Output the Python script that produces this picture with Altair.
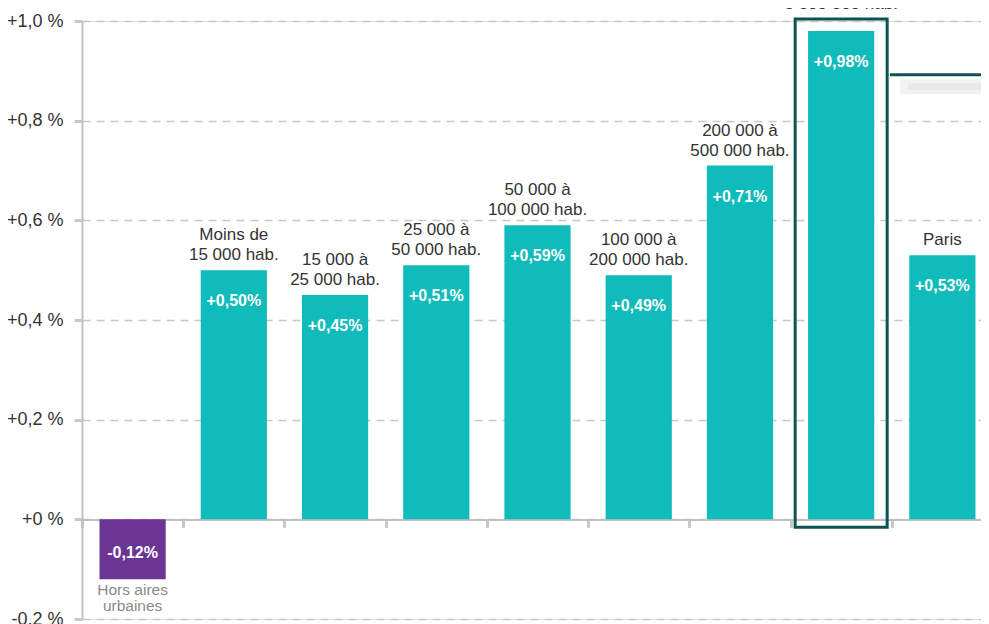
import altair as alt
import pandas as pd

categories = [
    "Hors aires\nurbaines",
    "Moins de\n15 000 hab.",
    "15 000 à\n25 000 hab.",
    "25 000 à\n50 000 hab.",
    "50 000 à\n100 000 hab.",
    "100 000 à\n200 000 hab.",
    "200 000 à\n500 000 hab.",
    "500 000 à\n3 000 000 hab.",
    "Paris",
]
values = [-0.12, 0.50, 0.45, 0.51, 0.59, 0.49, 0.71, 0.98, 0.53]
value_labels = ["-0,12%", "+0,50%", "+0,45%", "+0,51%", "+0,59%", "+0,49%", "+0,71%", "+0,98%", "+0,53%"]
highlighted = "500 000 à\n3 000 000 hab."
box_top = 1.004
box_bottom = -0.016
connector_y = 0.892
shadow_y = 0.868
y_ticks = [-0.2, 0, 0.2, 0.4, 0.6, 0.8, 1.0]

TEAL = "#0fbbbb"
PURPLE = "#6b3594"
DARK = "#0c5451"
FONT = "Liberation Sans"

df = pd.DataFrame({"cat": categories, "value": values, "lab": value_labels})
df["anchor"] = [box_top if c == highlighted else v for c, v in zip(categories, values)]
df["line1"] = [c.split("\n")[0] if "\n" in c else "" for c in categories]
df["line2"] = [c.split("\n")[-1] for c in categories]

W, H = 899, 598
RANGE_W = 911

x_scale = alt.Scale(domain=categories, range=[0, RANGE_W], paddingInner=0.346, paddingOuter=0.173)
x_enc = alt.X(
    "cat:N", sort=categories, scale=x_scale, title=None,
    axis=alt.Axis(
        labels=False, grid=False, orient="bottom", offset=-99.6,
        domainColor="#c0c0c0", domainWidth=2,
        tickColor="#c8c8c8", tickWidth=3, tickSize=8,
        bandPosition=0, tickOffset=-17.5,
    ),
)
xc = alt.X("cat:N", sort=categories)
y_scale = alt.Scale(domain=[-0.2, 1.0], nice=False, zero=False)
y_enc = alt.Y(
    "value:Q", scale=y_scale, title=None,
    axis=alt.Axis(
        values=y_ticks,
        labelExpr="datum.value < -0.1 ? '-0.2 %' : (abs(datum.value) < 0.001 ? '+0 %' : '+' + replace(format(datum.value, '.1f'), '.', ',') + ' %')",
        grid=True, gridDash=[8, 6], gridColor="#c8c8c8", gridWidth=1.5,
        domainColor="#c0c0c0", domainWidth=2,
        tickColor="#c8c8c8", tickWidth=3, tickSize=8,
        labelFont=FONT, labelFontSize=18, labelColor="#333333",
        labelPadding=11,
    ),
)

base = alt.Chart(df)

bars = base.mark_bar().encode(
    x=x_enc,
    y=y_enc,
    y2=alt.datum(0),
    color=alt.condition("datum.value < 0", alt.value(PURPLE), alt.value(TEAL)),
)

box = base.transform_filter(alt.datum.cat == highlighted).mark_bar(
    size=92, filled=False, stroke=DARK, strokeWidth=3, fill=None
).encode(x=xc, y=alt.datum(box_top), y2=alt.datum(box_bottom))

shadow_df = pd.DataFrame({"y": [shadow_y]})
shadow_outer = alt.Chart(shadow_df).mark_rule(
    color="#f2f2f2", strokeWidth=15
).encode(y="y:Q", x=alt.value(818), x2=alt.value(W))
shadow_inner = alt.Chart(shadow_df).mark_rule(
    color="#e8e8e8", strokeWidth=7
).encode(y="y:Q", x=alt.value(826), x2=alt.value(W))

connector = alt.Chart(pd.DataFrame({"y": [connector_y]})).mark_rule(
    color=DARK, strokeWidth=3
).encode(y="y:Q", x=alt.value(808), x2=alt.value(W))

val_pos = base.transform_filter("datum.value >= 0").mark_text(
    font=FONT, fontSize=16, fontWeight="bold", color="white",
    baseline="middle", dy=31,
).encode(x=xc, y="value:Q", text="lab:N")

val_neg = base.transform_filter("datum.value < 0").mark_text(
    font=FONT, fontSize=16, fontWeight="bold", color="white",
    baseline="middle", dy=-26,
).encode(x=xc, y="value:Q", text="lab:N")

pos = base.transform_filter("datum.value >= 0")
cat_line2 = pos.mark_text(
    font=FONT, fontSize=17, color="#333333", baseline="alphabetic", dy=-10,
).encode(x=xc, y="anchor:Q", text="line2:N")
cat_line1 = pos.mark_text(
    font=FONT, fontSize=17, color="#333333", baseline="alphabetic", dy=-30,
).encode(x=xc, y="anchor:Q", text="line1:N")

cat_neg = base.transform_filter("datum.value < 0").mark_text(
    font=FONT, fontSize=15.5, color="#8a8a8a", baseline="top", lineBreak="\n", lineHeight=16, dy=4,
).encode(x=xc, y="value:Q", text="cat:N")

chart = alt.layer(
    shadow_outer, shadow_inner, bars, box, connector, val_pos, val_neg, cat_line1, cat_line2, cat_neg
).properties(
    width=W, height=H,
    padding={"left": 74, "top": 13, "right": 0, "bottom": 5},
    autosize=alt.AutoSizeParams(type="none"),
).configure_view(stroke=None).configure(background="white")

chart.save("out.html", embed_options={"renderer": "svg", "actions": False})
